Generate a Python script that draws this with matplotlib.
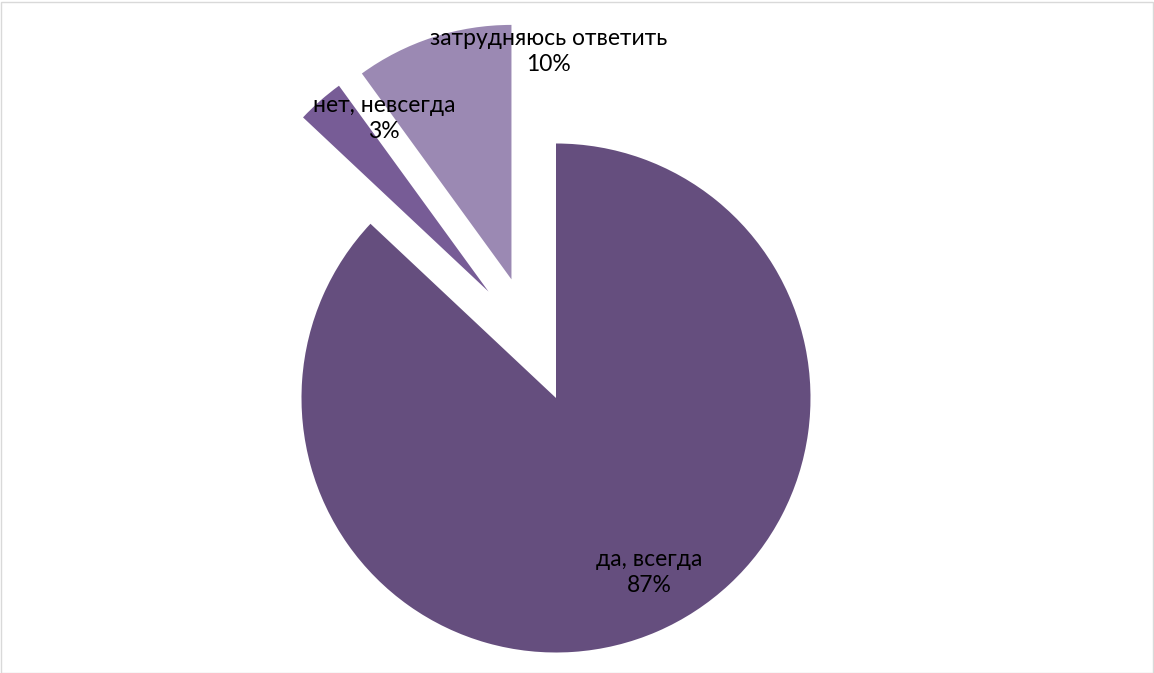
import matplotlib
matplotlib.use("Agg")
import matplotlib.pyplot as plt
from matplotlib.patches import Rectangle

labels = ["да, всегда", "нет, невсегда", "затрудняюсь ответить"]
values = [87, 3, 10]
colors = ["#654E7E", "#775C96", "#9B89B3"]

W, H, DPI = 1154, 673, 100
fig = plt.figure(figsize=(W / DPI, H / DPI), dpi=DPI)
ax = fig.add_axes([0, 0, 1, 1])

cx, cy, R = 556, 673 - 398, 254.5
wedges, _ = ax.pie(values, colors=colors, startangle=90,
                   counterclock=False, radius=1.0,
                   wedgeprops=dict(linewidth=0))

# exploded slice offsets (in radius units)
offsets = [(0.0, 0.0), (-0.265, 0.418), (-0.175, 0.466)]
for w, off in zip(wedges, offsets):
    w.set_center(off)

ax.set_xlim(-cx / R, (W - cx) / R)
ax.set_ylim(-cy / R, (H - cy) / R)
ax.set_aspect("auto")
ax.axis("off")

label_pos = [(0.365, -0.684), (-0.676, 1.098), (-0.028, 1.360)]
for lab, v, (x, y) in zip(labels, values, label_pos):
    ax.text(x, y, f"{lab}\n{v}%", ha="center", va="center", fontsize=16.5,
            family="Lato", color="#000000", linespacing=1.3)

fig.patches.append(Rectangle((0.5 / W, 0.5 / H), 1 - 2 / W, 1 - 2 / H,
                             transform=fig.transFigure, fill=False,
                             edgecolor="#D9D9D9", linewidth=1))

fig.savefig("out.png", dpi=DPI)
